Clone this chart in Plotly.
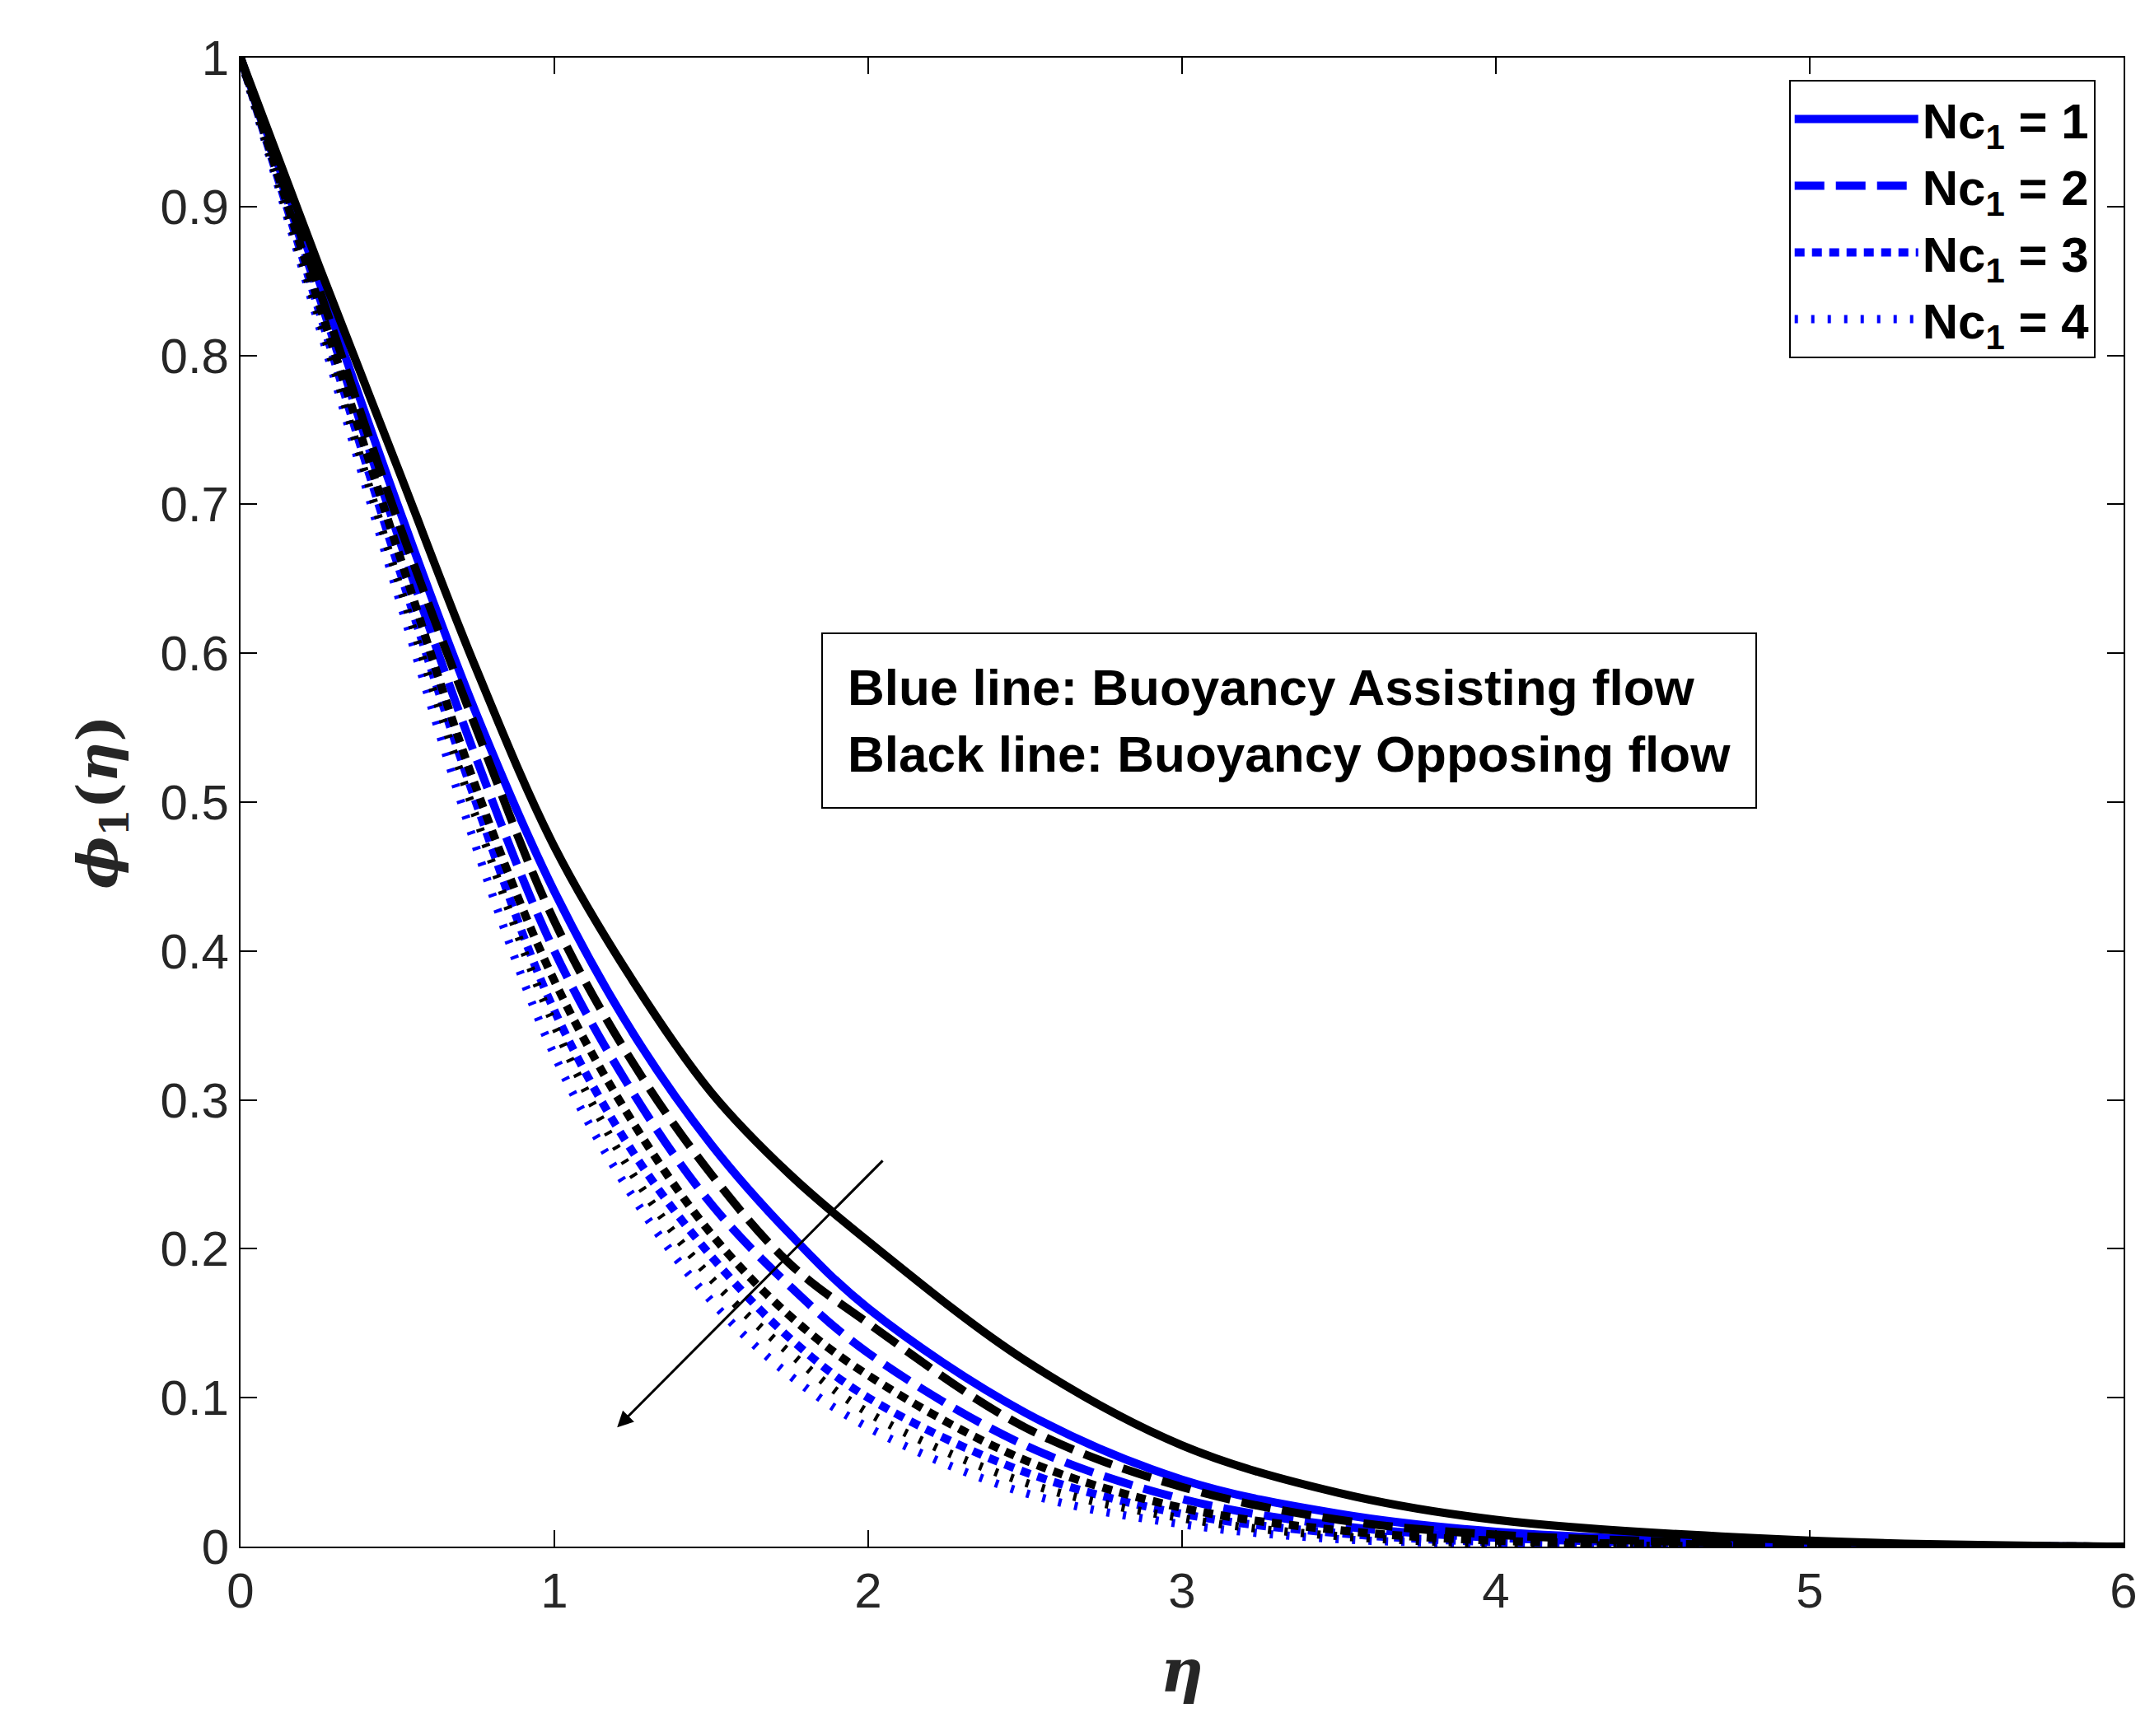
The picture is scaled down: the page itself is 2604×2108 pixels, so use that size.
import plotly.graph_objects as go

# similarity variable
eta = [0, 0.25, 0.5, 0.75, 1, 1.25, 1.5, 1.75, 2, 2.5, 3, 3.5, 4, 5, 6]

# assisting flow (blue)
assist_nc1 = [1, 0.85, 0.70, 0.56, 0.44, 0.345, 0.27, 0.21, 0.16, 0.09, 0.045, 0.022, 0.010, 0.002, 0]
assist_nc2 = [1, 0.84, 0.68, 0.53, 0.40, 0.305, 0.23, 0.175, 0.13, 0.068, 0.032, 0.014, 0.006, 0.001, 0]
assist_nc3 = [1, 0.83, 0.66, 0.50, 0.36, 0.265, 0.195, 0.14, 0.10, 0.050, 0.022, 0.009, 0.003, 0, 0]
assist_nc4 = [1, 0.82, 0.64, 0.47, 0.33, 0.235, 0.165, 0.115, 0.08, 0.036, 0.015, 0.005, 0.002, 0, 0]

# opposing flow (black)
oppose_nc1 = [1, 0.86, 0.725, 0.59, 0.47, 0.38, 0.305, 0.25, 0.205, 0.125, 0.068, 0.036, 0.018, 0.004, 0]
oppose_nc2 = [1, 0.845, 0.69, 0.55, 0.42, 0.325, 0.25, 0.19, 0.15, 0.080, 0.040, 0.018, 0.008, 0.0015, 0]
oppose_nc3 = [1, 0.835, 0.67, 0.51, 0.38, 0.285, 0.21, 0.155, 0.115, 0.058, 0.026, 0.011, 0.004, 0.001, 0]
oppose_nc4 = [1, 0.825, 0.65, 0.49, 0.35, 0.25, 0.18, 0.13, 0.09, 0.043, 0.019, 0.007, 0.002, 0, 0]

nc_values = [1, 2, 3, 4]
dashes = ["solid", "36px,14px", "12px,9px", "4px,16px"]

fig = go.Figure()
for nc, dash, ys in zip(nc_values, dashes, [assist_nc1, assist_nc2, assist_nc3, assist_nc4]):
    fig.add_trace(go.Scatter(x=eta, y=ys, mode="lines", line=dict(color="#0000ff", width=10, dash=dash, shape="spline"),
                             name=f"<b>Nc<sub>1</sub> = {nc}</b>"))
for nc, dash, ys in zip(nc_values, dashes, [oppose_nc1, oppose_nc2, oppose_nc3, oppose_nc4]):
    fig.add_trace(go.Scatter(x=eta, y=ys, mode="lines", line=dict(color="black", width=10, dash=dash, shape="spline"),
                             showlegend=False))

fig.add_annotation(x=1.2, y=0.08, ax=2.05, ay=0.26, xref="x", yref="y", axref="x", ayref="y",
                   showarrow=True, arrowhead=2, arrowsize=1.3, arrowwidth=3, arrowcolor="black", text="")
fig.add_annotation(x=1.85, y=0.555, xref="x", yref="y", xanchor="left", yanchor="middle", align="left",
                   text="<b>Blue line: Buoyancy Assisting flow<br>Black line: Buoyancy Opposing flow</b>",
                   showarrow=False, bordercolor="black", borderwidth=2, borderpad=30, bgcolor="white",
                   font=dict(size=62, color="black", family="Liberation Sans"))

axis = dict(showgrid=False, zeroline=False, showline=True, linecolor="black", linewidth=2, mirror="ticks",
            ticks="inside", ticklen=20, tickwidth=2, tickcolor="black",
            tickfont=dict(size=60, color="#262626", family="Liberation Sans"))
fig.update_xaxes(range=[0, 6], dtick=1,
                 title=dict(text="<b><i>η</i></b>", standoff=40, font=dict(size=72, family="DejaVu Serif", color="#262626")), **axis)
fig.update_yaxes(range=[0, 1], dtick=0.1,
                 title=dict(text="<b><i>ϕ</i><sub>1</sub>(<i>η</i>)</b>", standoff=30, font=dict(size=68, family="DejaVu Serif", color="#262626")), **axis)

fig.update_layout(width=2604, height=2108, plot_bgcolor="white", paper_bgcolor="white",
                  margin=dict(l=284, r=34, t=62, b=238),
                  legend=dict(x=0.985, y=0.985, xanchor="right", yanchor="top", bordercolor="black", borderwidth=2,
                              bgcolor="white", font=dict(size=60, family="Liberation Sans", color="black"),
                              itemwidth=150, tracegroupgap=30))
fig.write_html("out.html")
